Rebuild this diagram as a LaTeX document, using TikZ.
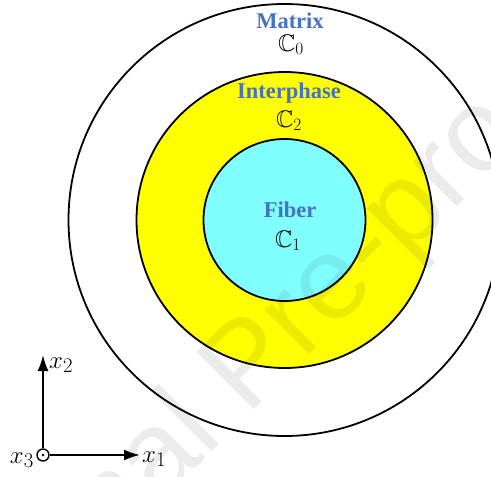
\documentclass[tikz,border=0pt]{standalone}
\usepackage{amssymb}
\usepackage{fontspec}
\setmainfont{Liberation Serif}
\newfontfamily\wmfont{Liberation Sans}
\usetikzlibrary{arrows.meta}
\definecolor{lblblue}{RGB}{68,114,196}
\definecolor{fibcyan}{RGB}{128,255,255}
\definecolor{intyellow}{RGB}{255,255,0}

\begin{document}
\begin{tikzpicture}[
  x=1pt, y=-1pt,
  ring/.style={draw=black, line width=1.8pt},
  phase/.style={font=\fontsize{22.5}{26}\selectfont\bfseries, text=lblblue, anchor=base, inner sep=0pt},
  tens/.style={font=\fontsize{24}{28}\selectfont, anchor=base, inner sep=0pt},
  axarr/.style={-{Latex[length=16pt,width=11pt]}, line width=1.8pt},
  axlab/.style={font=\fontsize{28}{30}\selectfont, inner sep=0pt},
  wmark/.style={font=\wmfont\fontsize{118}{120}\selectfont, text=black, text opacity=0.08, inner sep=0pt}
]
\def\cx{284.5}\def\cy{220}
\useasboundingbox (0,0) rectangle (491,477);
\clip (0,0) rectangle (491,477);

% three phases
\draw[ring] (\cx,\cy) circle (216);
\filldraw[ring, fill=intyellow] (\cx,\cy) circle (148);
\filldraw[ring, fill=fibcyan] (\cx,\cy) circle (81);

\node[phase] (matlab) at (290,28) {Matrix};
\node[tens]  (c0) at (291,51) {$\mathbb{C}_0$};
\node[phase] (intlab) at (289,98) {Interphase};
\node[tens]  (c2) at (289,127) {$\mathbb{C}_2$};
\node[phase] (fiblab) at (290,217) {Fiber};
\node[tens]  (c1) at (288,247) {$\mathbb{C}_1$};

% axes
\node[draw, circle, line width=1.4pt, minimum size=12pt, inner sep=0pt] (o) at (43,455) {};
\fill (o.center) circle (1.4);
\coordinate (e1) at (140,455);
\coordinate (e2) at (43,355);
\draw[axarr] (o) -- (e1);
\draw[axarr] (o) -- (e2);
\node[axlab, anchor=base west] (x1lab) at (142,462) {$x_1$};
\node[axlab, anchor=base west] (x2lab) at (49,368) {$x_2$};
\node[axlab, anchor=base east] (x3lab) at (34,463) {$x_3$};

% watermark
\node[wmark, rotate=45, anchor=base west] (wm) at (-49,713) {Journal Pre-proof};

\end{tikzpicture}
\end{document}
